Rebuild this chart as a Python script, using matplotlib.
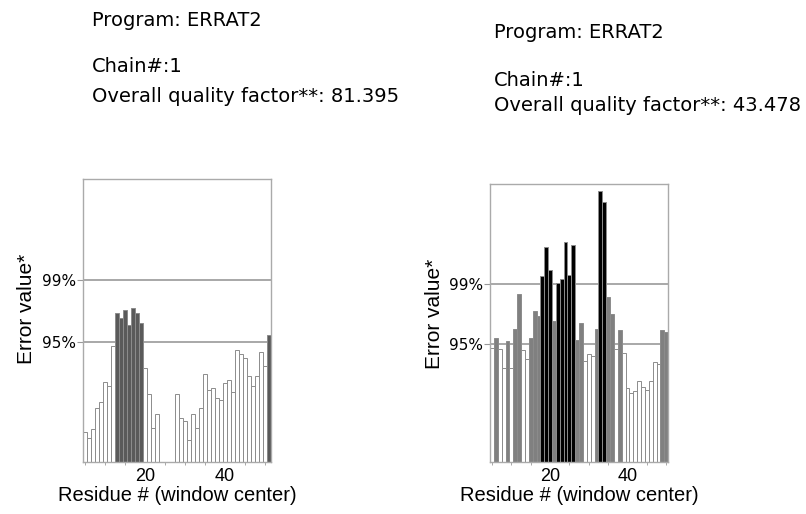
import matplotlib.pyplot as plt

plt.rcParams['font.family'] = ['Liberation Sans', 'DejaVu Sans']

# ERRAT thresholds (error value)
lim95 = 11.38
lim99 = 17.19

# left model: residues 5..51
res_a = list(range(5, 52))
err_a = [2.85, 2.31, 3.16, 5.16, 5.70, 7.59, 7.22, 10.98, 14.15, 13.67,
         14.40, 12.97, 14.56, 14.15, 13.16, 8.92, 6.49, 3.26, 4.59, 0,
         0, 0, 0, 6.42, 4.21, 3.86, 2.12, 4.59, 3.26, 5.16,
         8.32, 6.80, 7.03, 6.11, 5.92, 7.44, 7.75, 6.65, 10.60, 10.22,
         9.81, 8.16, 7.22, 8.16, 10.44, 9.08, 12.03]
score_a = "81.395"

# right model: residues 5..50
res_b = list(range(5, 51))
err_b = [11.04, 12.0, 10.9, 9.1, 11.7, 9.1, 12.8, 16.2, 10.8, 9.95,
         12.0, 14.6, 14.1, 17.9, 20.7, 18.5, 13.6, 17.3, 17.6, 21.2,
         18.0, 20.9, 11.75, 13.4, 9.76, 10.46, 10.24, 12.87, 26.1, 25.1,
         15.9, 14.3, 10.9, 12.7, 10.5, 7.16, 6.68, 6.88, 7.84, 7.26,
         6.97, 7.84, 9.66, 9.47, 12.7, 12.5]
score_b = "43.478"


def bar_colors(vals, mid):
    out = []
    for v in vals:
        if v > lim99:
            out.append('black')
        elif v > lim95:
            out.append(mid)
        else:
            out.append('white')
    return out


def errat_panel(ax, res, err, mid, ylab_pos):
    ax.bar(res, err, width=1.0, color=bar_colors(err, mid),
           edgecolor='#8c8c8c', linewidth=0.7)
    ax.axhline(lim99, color='#9a9a9a', lw=1.2, zorder=0)
    ax.axhline(lim95, color='#9a9a9a', lw=1.2, zorder=0)
    ax.set_xlim(res[0] - 0.5, res[-1] + 0.5)
    ax.set_ylim(0, 26.8)
    ax.set_yticks([lim95, lim99])
    ax.set_yticklabels(['95%', '99%'], fontsize=11, family='DejaVu Sans')
    ax.set_xticks([20, 40])
    ax.set_xticklabels(['20', '40'], fontsize=13)
    ax.set_xticks(range(5, res[-1] + 1, 5), minor=True)
    ax.tick_params(axis='x', length=0, pad=4)
    ax.tick_params(axis='x', which='minor', length=2, color='#999999')
    ax.tick_params(axis='y', length=4, color='#999999', pad=1)
    for s in ax.spines.values():
        s.set_color('#aaaaaa')
        s.set_linewidth(1.0)
    ax.set_xlabel('Residue # (window center)', fontsize=14.5, labelpad=1)
    ax.set_ylabel('Error value*', fontsize=15)
    ax.yaxis.set_label_coords(*ylab_pos)


fig = plt.figure(figsize=(8.06, 5.14), dpi=100)
ax1 = fig.add_axes([0.103, 0.101, 0.233, 0.551])
ax2 = fig.add_axes([0.608, 0.101, 0.221, 0.541])

errat_panel(ax1, res_a, err_a, '#5a5a5a', (-0.25, 0.54))
errat_panel(ax2, res_b, err_b, '#808080', (-0.258, 0.532))

# header text above each panel
hdr = dict(fontsize=14, va='center', family='DejaVu Sans')
fig.text(92 / 806, 1 - 20 / 514, 'Program: ERRAT2', **hdr)
fig.text(92 / 806, 1 - 67 / 514, 'Chain#:1', **hdr)
fig.text(92 / 806, 1 - 96 / 514, 'Overall quality factor**: ' + score_a, **hdr)
fig.text(494 / 806, 1 - 33 / 514, 'Program: ERRAT2', **hdr)
fig.text(494 / 806, 1 - 80 / 514, 'Chain#:1', **hdr)
fig.text(494 / 806, 1 - 106 / 514, 'Overall quality factor**: ' + score_b, **hdr)

fig.savefig('out.png', dpi=100)
